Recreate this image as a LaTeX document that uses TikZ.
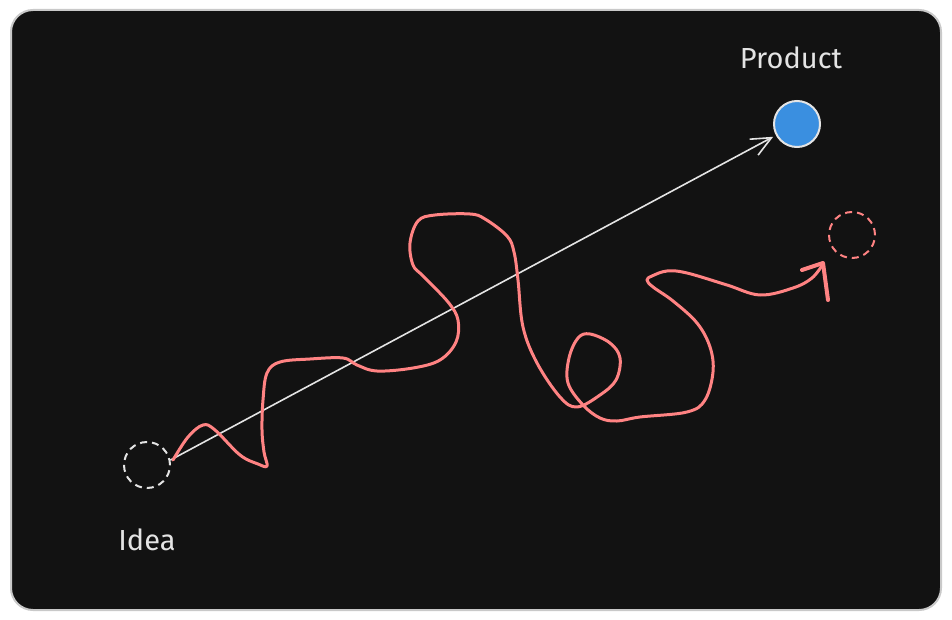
\documentclass[tikz,border=0pt]{standalone}
\usepackage{fontspec}
\setmainfont{Fira Sans}
\usetikzlibrary{arrows.meta,positioning}
\tikzset{spot/.style={circle,inner sep=0pt,minimum size=46pt,line width=2pt},
    hand/.style={text=chalk,font=\fontsize{29}{33}\selectfont}}

\begin{document}
\begin{tikzpicture}[x=1pt,y=-1pt]
            \definecolor{chalk}{HTML}{E4E4E4}
            \definecolor{board}{HTML}{121212}
            \definecolor{rim}{HTML}{C9C9C9}
            \definecolor{coral}{HTML}{FF8383}
            \definecolor{sky}{HTML}{3A8FE0}
            \useasboundingbox (0,0) rectangle (952,620);
            \fill [white] (0,0) rectangle (952,620);
            \filldraw [draw=rim,fill=board,line width=2pt,rounded corners=22pt] (11,10) rectangle (941,610);
            % start, goal and where we really end up
            \node [spot,draw=chalk,dash pattern=on 7pt off 5pt] (idea) at (147,465) {};
            \node [spot,draw=chalk,fill=sky] (product) at (797,124) {};
            \node [spot,draw=coral,dash pattern=on 7pt off 5pt] (actual) at (852,235) {};
            \node [hand] (idealabel) at (147,540) {Idea};
            \node [hand] (productlabel) at (791,58) {Product};
            % the plan
            \draw [chalk,line width=1.6pt,-{Straight Barb[length=20pt,width=18pt]},shorten >=3pt] (idea.12) -- (product);
            % the real road
            \draw [coral,line width=3pt,line cap=round,line join=round] plot [smooth,tension=0.6] coordinates {
                (173,460) (188,437) (203,425) (215,430) (240,455) (258,464) (267,466) (264,452)
                (262,430) (263,400) (267,373) (280,362) (310,359) (343,358) (357,365) (377,371)
                (413,368) (440,360) (456,342) (458,320) (448,302) (423,276) (413,265) (410,243)
                (418,221) (435,215) (470,214) (485,219) (507,236) (514,252) (518,280) (523,327)
                (537,363) (560,397) (577,407) (600,395) (616,380) (620,358) (610,343) (590,334)
                (578,338) (569,358) (568,383) (583,405) (600,418) (617,421) (640,417) (687,412)
                (705,400) (713,372) (710,347) (697,323) (673,301) (653,287) (647,280) (652,276)
                (667,271) (687,273) (727,285) (760,295) (793,288) (812,278) (823,264)
            };
            \draw [coral,line width=4pt,line cap=round,line join=round] (802,270) -- (823,263) -- (828,300);
        \end{tikzpicture}
\end{document}
